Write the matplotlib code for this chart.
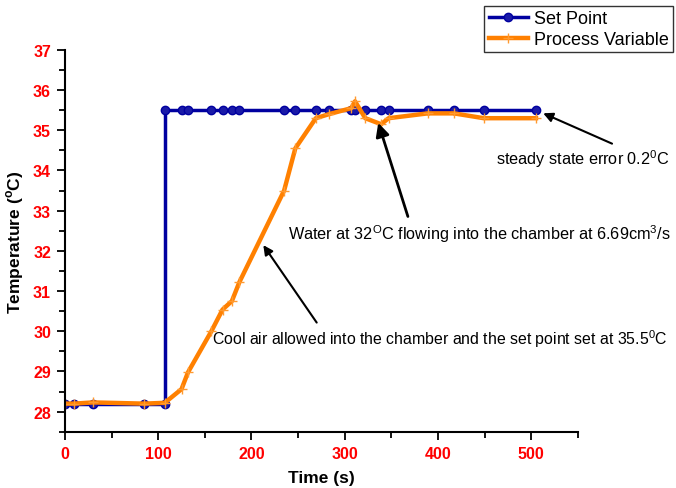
import matplotlib
matplotlib.use("Agg")
import matplotlib.pyplot as plt
from matplotlib.ticker import MultipleLocator

plt.rcParams["font.family"] = ["Liberation Sans", "DejaVu Sans"]
plt.rcParams["mathtext.fontset"] = "custom"
plt.rcParams["mathtext.rm"] = "Liberation Sans"
plt.rcParams["mathtext.bf"] = "Liberation Sans:bold"

# 数据
sp_time = [0, 10, 30, 85, 107, 107, 125, 132, 157, 169, 179, 187, 235, 247,
           269, 283, 307, 311, 322, 339, 347, 389, 417, 449, 505]
sp_temp = [28.2, 28.2, 28.2, 28.2, 28.2, 35.5, 35.5, 35.5, 35.5, 35.5, 35.5,
           35.5, 35.5, 35.5, 35.5, 35.5, 35.5, 35.5, 35.5, 35.5, 35.5, 35.5,
           35.5, 35.5, 35.5]

pv_time = [0, 10, 30, 85, 107, 125, 132, 157, 169, 179, 187, 235, 247, 269,
           283, 307, 311, 322, 339, 347, 389, 417, 449, 505]
pv_temp = [28.2, 28.2, 28.23, 28.2, 28.22, 28.56, 28.98, 30.0, 30.54, 30.75,
           31.22, 33.5, 34.55, 35.3, 35.4, 35.55, 35.72, 35.3, 35.15, 35.3,
           35.42, 35.42, 35.3, 35.3]

fig = plt.figure(figsize=(6.76, 4.89), dpi=100)
ax = fig.add_axes([0.096, 0.115, 0.759, 0.781])

ax.plot(sp_time, sp_temp, color="#0000a0", lw=2.5, marker="o", ms=6,
        mfc="#1a1aa8", mec="#0000a0", label="Set Point")
ax.plot(pv_time, pv_temp, color="#ff8000", lw=3.2, marker="+", ms=7,
        mew=1.0, mec="#ff9a30", label="Process Variable")

ax.set_xlim(0, 550)
ax.set_ylim(27.5, 37)
ax.xaxis.set_major_locator(MultipleLocator(100))
ax.xaxis.set_minor_locator(MultipleLocator(50))
ax.yaxis.set_major_locator(MultipleLocator(1))
ax.yaxis.set_minor_locator(MultipleLocator(0.5))
ax.spines["top"].set_visible(False)
ax.spines["right"].set_visible(False)
for s in ("left", "bottom"):
    ax.spines[s].set_linewidth(1.5)
ax.tick_params(which="major", direction="out", length=6, width=1.3,
               labelsize=11.5, labelcolor="red", pad=4)
ax.tick_params(which="minor", direction="out", length=4, width=1.3)
for lab in ax.get_xticklabels() + ax.get_yticklabels():
    lab.set_fontweight("bold")

ax.set_xlabel("Time (s)", fontsize=12.5, fontweight="bold", labelpad=7)
ax.set_ylabel(r"Temperature ($^{\mathbf{o}}$C)", fontsize=12.5,
              fontweight="bold", labelpad=5)

arrow = dict(arrowstyle="-|>", color="black", lw=1.5, mutation_scale=14)
ax.annotate(r"Cool air allowed into the chamber and the set point set at 35.5$^0$C",
            xy=(211, 32.2), xytext=(158, 29.82), fontsize=11.4,
            ha="left", va="center", arrowprops=dict(arrow, relpos=(0.25, 0.6)))
ax.annotate(r"Water at 32$^{\rm O}$C flowing into the chamber at 6.69cm$^3$/s",
            xy=(335, 35.25), xytext=(239, 32.45), fontsize=11.7,
            ha="left", va="center",
            arrowprops=dict(arrow, lw=2.0, mutation_scale=20, relpos=(0.32, 0.9)))
ax.annotate(r"steady state error 0.2$^0$C",
            xy=(510, 35.45), xytext=(462, 34.3), fontsize=11.7,
            ha="left", va="center", arrowprops=dict(arrow, relpos=(0.72, 1.0)))

leg = fig.legend(loc="upper left", bbox_to_anchor=(0.716, 0.986),
                 fontsize=13, frameon=True, fancybox=False, borderpad=0.25,
                 handlelength=2.2, handletextpad=0.3, labelspacing=0.2,
                 borderaxespad=0)
leg.get_frame().set_edgecolor("black")
leg.get_frame().set_linewidth(1.0)

fig.savefig("out.png", dpi=100)
